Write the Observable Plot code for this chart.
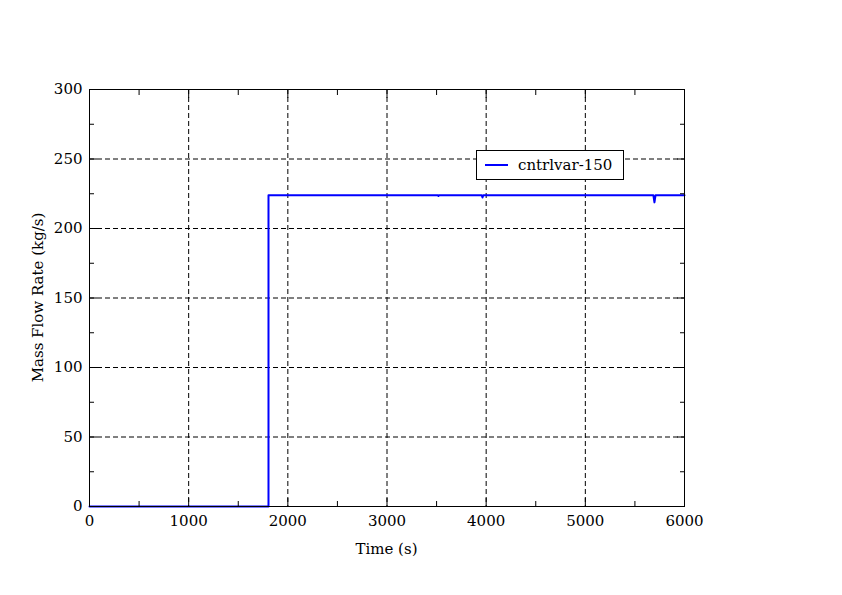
<!DOCTYPE html>
<html>
<head>
<meta charset="utf-8">
<script src="https://cdn.jsdelivr.net/npm/d3@7"></script>
<script src="https://cdn.jsdelivr.net/npm/@observablehq/plot@0.6"></script>
<style>
  html, body { margin: 0; padding: 0; background: #fff; }
  #wrap { position: relative; width: 842px; height: 595px; }
  #legend {
    position: absolute; left: 476px; top: 150px; width: 148px; height: 30px;
    border: 1px solid #000; background: #fff; box-sizing: border-box;
    font-family: "DejaVu Serif", serif; font-size: 15px; color: #000;
  }
  #legend .sw { position: absolute; left: 8px; top: 13px; width: 23px; height: 2px; background: #0000ff; }
  #legend .tx { position: absolute; left: 41px; top: 5px; white-space: nowrap; }
</style>
</head>
<body>
<div id="wrap">
  <div id="chart"></div>
  <div id="legend"><div class="sw"></div><div class="tx">cntrlvar-150</div></div>
</div>
<script>
const seriesName = "cntrlvar-150";
const timeS = [0, 1805, 1805, 3515, 3519, 3523, 3955, 3963, 3971, 5686, 5697, 5708, 6000];
const flowKgS = [0, 0, 224, 224, 223.4, 224, 224, 222.3, 224, 224, 218.8, 224, 224];
const xMajorTicks = [0, 1000, 2000, 3000, 4000, 5000, 6000];
const yMajorTicks = [0, 50, 100, 150, 200, 250, 300];
const xMinorTicks = [500, 1500, 2500, 3500, 4500, 5500];
const yMinorTicks = [25, 75, 125, 175, 225, 275];
const xGrid = [1000, 2000, 3000, 4000, 5000];
const yGrid = [50, 100, 150, 200, 250];

const data = timeS.map((t, i) => ({t, v: flowKgS[i]}));
const font = "DejaVu Serif, serif";

const chart = Plot.plot({
  width: 842,
  height: 595,
  marginLeft: 89,
  marginRight: 158,
  marginTop: 89,
  marginBottom: 89,
  style: {fontFamily: font, fontSize: "15px", background: "#fff", color: "#000"},
  x: {domain: [0, 6000], label: null},
  y: {domain: [0, 300], label: null},
  marks: [
    Plot.gridX(xGrid, {stroke: "#000", strokeOpacity: 1, strokeDasharray: "5,3", strokeWidth: 1}),
    Plot.gridY(yGrid, {stroke: "#000", strokeOpacity: 1, strokeDasharray: "5,3", strokeWidth: 1}),
    Plot.line(data, {x: "t", y: "v", stroke: "#0000ff", strokeWidth: 2, curve: "linear"}),
    Plot.frame({stroke: "#000", strokeWidth: 1}),
    // labels
    Plot.axisX(xMajorTicks, {anchor: "bottom", tickSize: 0, tickPadding: 9, fontSize: 15, tickFormat: d3.format("d"), label: null}),
    Plot.axisY(yMajorTicks, {anchor: "left", tickSize: 0, tickPadding: 7, fontSize: 15, tickFormat: d3.format("d"), label: null}),
    // inward major ticks
    Plot.axisX(xMajorTicks, {anchor: "bottom", tickSize: -8, fill: "none", label: null}),
    Plot.axisX(xMajorTicks, {anchor: "top", tickSize: -8, fill: "none", label: null}),
    Plot.axisY(yMajorTicks, {anchor: "left", tickSize: -8, fill: "none", label: null}),
    Plot.axisY(yMajorTicks, {anchor: "right", tickSize: -8, fill: "none", label: null}),
    // inward minor ticks
    Plot.axisX(xMinorTicks, {anchor: "bottom", tickSize: -5, fill: "none", label: null}),
    Plot.axisX(xMinorTicks, {anchor: "top", tickSize: -5, fill: "none", label: null}),
    Plot.axisY(yMinorTicks, {anchor: "left", tickSize: -5, fill: "none", label: null}),
    Plot.axisY(yMinorTicks, {anchor: "right", tickSize: -5, fill: "none", label: null})
  ]
});

// axis titles
const svg = d3.select(chart);
svg.append("text")
  .attr("x", 89 + 595 / 2).attr("y", 554)
  .attr("text-anchor", "middle")
  .attr("font-family", font).attr("font-size", 15).attr("fill", "#000")
  .text("Time (s)");
svg.append("text")
  .attr("transform", `translate(43, ${89 + 417 / 2}) rotate(-90)`)
  .attr("text-anchor", "middle")
  .attr("font-family", font).attr("font-size", 15).attr("fill", "#000")
  .text("Mass Flow Rate (kg/s)");

document.getElementById("chart").appendChild(chart);
</script>
</body>
</html>
